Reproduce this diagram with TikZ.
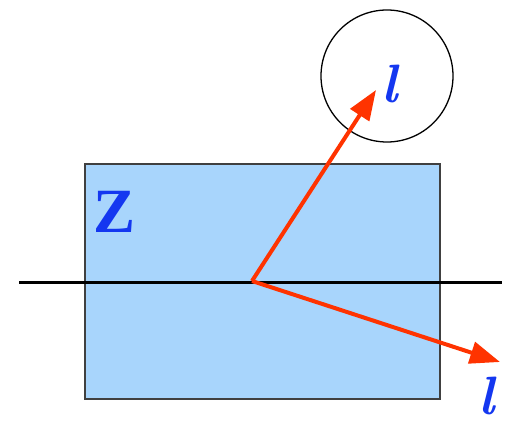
\documentclass[tikz,border=0pt]{standalone}
\usepackage{fontspec}
\newfontfamily\tms{Liberation Serif}
\usetikzlibrary{arrows.meta}
\definecolor{boxblue}{RGB}{168,213,252}
\definecolor{arrred}{RGB}{255,51,0}
\definecolor{txtblue}{RGB}{20,55,240}
\tikzset{
  vec/.style={draw=arrred, line width=4pt, -{Triangle[length=30pt,width=22pt]}},
  lbl/.style={text=txtblue, font=\fontsize{54}{58}\selectfont\bfseries\itshape, inner sep=0pt},
}
\begin{document}
\begin{tikzpicture}[x=1pt,y=-1pt]
\useasboundingbox (0,0) rectangle (506,422);
\node[draw=black!75, line width=1.3pt, fill=boxblue, minimum width=355pt, minimum height=235pt, inner sep=0pt] (box) at (262.5,281.5) {};
\coordinate (lL) at (19,282.5);
\coordinate (lR) at (502,282.5);
\draw[line width=3.6pt] (lL) -- (lR);
\node[draw=black, line width=1.3pt, circle, minimum size=132pt, inner sep=0pt] (circ) at (387,76) {};
\node[text=txtblue, font=\fontsize{63}{66}\selectfont\tms\bfseries, inner sep=0pt] (Z) at (115,212) {Z};
\node[lbl] (l1) at (390,84) {l};
\node[lbl] (l2) at (487,396) {l};
\coordinate (O) at (252,281);
\coordinate (t1) at (376,90);
\coordinate (t2) at (500,362);
\draw[vec] (O) -- (t1);
\draw[vec] (O) -- (t2);
\end{tikzpicture}
\end{document}
